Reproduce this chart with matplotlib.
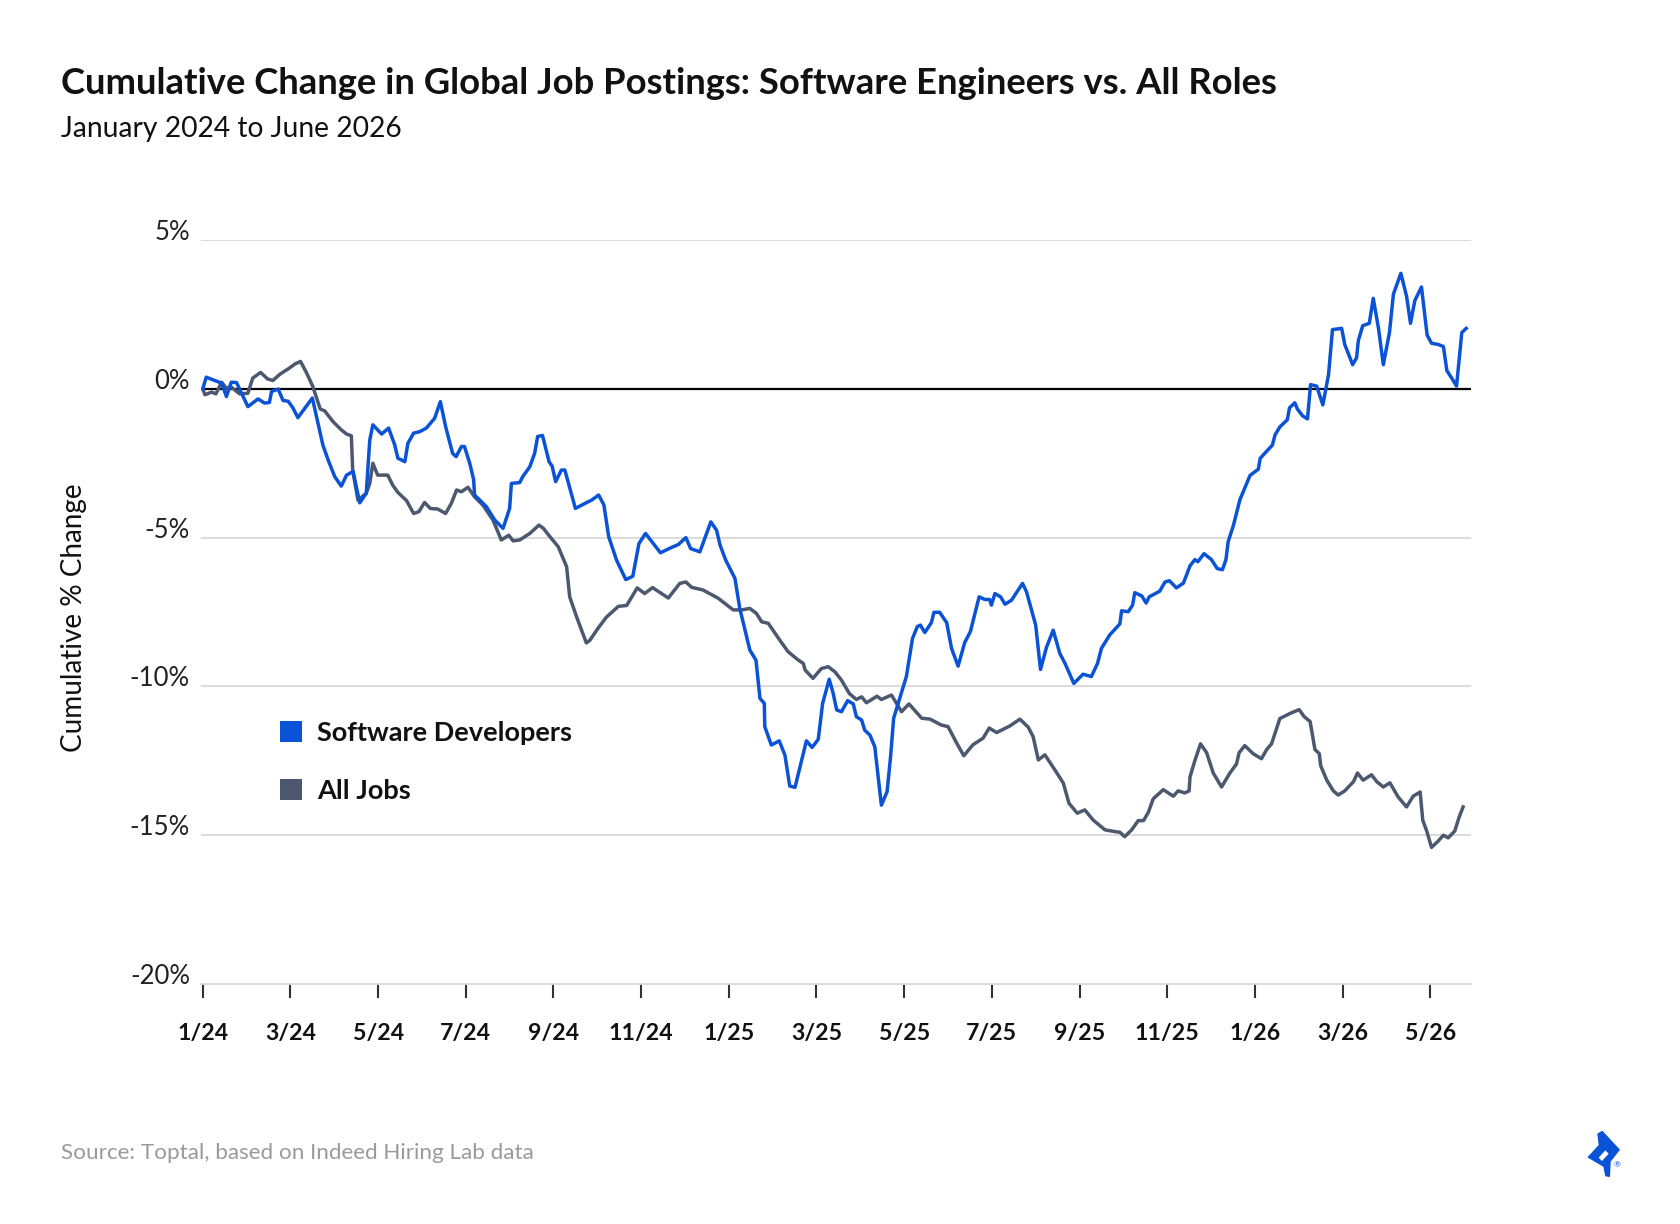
import matplotlib
matplotlib.use("Agg")
import matplotlib.pyplot as plt
from matplotlib.patches import Patch, Polygon

plt.rcParams['font.family'] = ['Lato', 'DejaVu Sans']

# ---------------- data (months since Jan 2024, cumulative % change) ----------------
sw_month = [0.0, 0.08, 0.43, 0.54, 0.65, 0.77, 1.03, 1.26, 1.41, 1.52, 1.57, 1.72, 1.83, 1.95,
            2.06, 2.17, 2.5, 2.63, 2.74, 2.86, 3.01, 3.16, 3.28, 3.43, 3.58, 3.73, 3.81, 3.88,
            4.08, 4.24, 4.38, 4.45, 4.61, 4.68, 4.81, 4.95, 5.1, 5.29, 5.42, 5.54, 5.7, 5.78,
            5.9, 5.97, 6.09, 6.18, 6.2, 6.32, 6.47, 6.66, 6.85, 7.0, 7.04, 7.23, 7.3, 7.46,
            7.57, 7.64, 7.75, 7.9, 7.97, 8.05, 8.18, 8.26, 8.5, 8.72, 8.87, 9.03, 9.15, 9.26,
            9.44, 9.65, 9.81, 9.95, 10.1, 10.44, 10.65, 10.85, 11.02, 11.13, 11.34, 11.59,
            11.72, 11.8, 11.93, 12.14, 12.25, 12.48, 12.62, 12.71, 12.81, 12.82, 12.97, 13.15,
            13.28, 13.39, 13.51, 13.77, 13.9, 14.04, 14.14, 14.29, 14.38, 14.46, 14.57, 14.71,
            14.84, 14.91, 15.03, 15.1, 15.22, 15.33, 15.48, 15.61, 15.69, 15.76, 15.9, 16.05,
            16.19, 16.3, 16.37, 16.47, 16.62, 16.68, 16.81, 16.97, 17.08, 17.23, 17.38, 17.51,
            17.71, 17.84, 17.95, 17.99, 18.07, 18.2, 18.3, 18.45, 18.7, 18.79, 19.0, 19.11,
            19.25, 19.4, 19.55, 19.67, 19.87, 20.08, 20.27, 20.41, 20.5, 20.69, 20.92, 20.96,
            21.11, 21.21, 21.26, 21.42, 21.52, 21.59, 21.83, 21.95, 22.05, 22.21, 22.37, 22.52,
            22.63, 22.7, 22.84, 23.01, 23.14, 23.26, 23.34, 23.39, 23.51, 23.66, 23.89, 24.08,
            24.12, 24.23, 24.4, 24.46, 24.57, 24.74, 24.79, 24.91, 24.97, 25.09, 25.2, 25.27,
            25.41, 25.55, 25.68, 25.77, 25.98, 26.05, 26.23, 26.32, 26.36, 26.46, 26.61, 26.7,
            26.82, 26.93, 27.07, 27.16, 27.33, 27.46, 27.55, 27.65, 27.8, 27.93, 28.03, 28.18,
            28.3, 28.38, 28.49, 28.6, 28.72, 28.82]
sw_value = [0.0, 0.39, 0.19, -0.26, 0.22, 0.21, -0.6, -0.34, -0.48, -0.46, -0.09, -0.01, -0.39,
            -0.42, -0.65, -0.97, -0.31, -1.16, -1.89, -2.39, -2.95, -3.27, -2.9, -2.78, -3.83,
            -3.51, -1.72, -1.21, -1.52, -1.32, -1.89, -2.33, -2.45, -1.83, -1.49, -1.44, -1.32,
            -0.99, -0.43, -1.27, -2.17, -2.28, -1.94, -1.94, -2.5, -3.06, -3.57, -3.74, -3.96,
            -4.41, -4.69, -4.02, -3.18, -3.15, -2.95, -2.62, -2.17, -1.6, -1.57, -2.45, -2.6,
            -3.12, -2.73, -2.73, -4.02, -3.85, -3.74, -3.57, -3.9, -4.97, -5.76, -6.41, -6.3,
            -5.2, -4.86, -5.51, -5.36, -5.23, -5.0, -5.37, -5.48, -4.47, -4.75, -5.25, -5.76,
            -6.37, -7.38, -8.78, -9.12, -10.4, -10.57, -11.35, -11.97, -11.83, -12.31, -13.35,
            -13.39, -11.83, -12.05, -11.78, -10.57, -9.76, -10.23, -10.79, -10.85, -10.48,
            -10.59, -11.02, -11.13, -11.47, -11.64, -12.03, -13.99, -13.54, -12.36, -11.07,
            -10.4, -9.67, -8.39, -7.99, -7.94, -8.19, -7.86, -7.51, -7.51, -7.86, -8.72, -9.32,
            -8.53, -8.16, -6.99, -7.08, -7.08, -7.27, -6.88, -6.99, -7.24, -7.1, -6.54, -6.82,
            -7.94, -9.43, -8.67, -8.11, -8.89, -9.23, -9.9, -9.59, -9.67, -9.23, -8.72, -8.27,
            -7.9, -7.46, -7.49, -7.27, -6.85, -6.96, -7.2, -6.99, -6.8, -6.49, -6.45, -6.69,
            -6.53, -5.95, -5.74, -5.81, -5.54, -5.74, -6.04, -6.08, -5.74, -5.14, -4.59, -3.72,
            -2.91, -2.7, -2.34, -2.16, -1.89, -1.55, -1.28, -1.04, -0.64, -0.47, -0.68, -0.91,
            -1.01, 0.14, 0.09, -0.54, 0.47, 1.99, 2.03, 1.49, 0.81, 1.04, 1.62, 2.12, 2.2, 3.04,
            2.03, 0.81, 1.89, 3.18, 3.88, 3.11, 2.2, 2.97, 3.42, 1.8, 1.53, 1.49, 1.42, 0.61,
            0.36, 0.09, 1.89, 2.03]

all_month = [0.0, 0.05, 0.2, 0.3, 0.43, 0.54, 0.65, 0.84, 1.03, 1.14, 1.32, 1.48, 1.6, 1.76,
             1.98, 2.1, 2.23, 2.37, 2.51, 2.68, 2.78, 2.97, 3.16, 3.28, 3.39, 3.42, 3.54, 3.73,
             3.81, 3.88, 3.99, 4.22, 4.33, 4.45, 4.65, 4.81, 4.93, 5.06, 5.19, 5.36, 5.54, 5.67,
             5.79, 5.9, 6.05, 6.2, 6.39, 6.62, 6.81, 6.98, 7.08, 7.23, 7.46, 7.67, 7.77, 7.92,
             8.11, 8.3, 8.37, 8.53, 8.64, 8.75, 8.83, 9.02, 9.21, 9.48, 9.67, 9.91, 10.08, 10.26,
             10.62, 10.88, 11.02, 11.15, 11.41, 11.76, 12.1, 12.29, 12.48, 12.63, 12.75, 12.9,
             13.16, 13.35, 13.58, 13.7, 13.74, 13.92, 14.11, 14.27, 14.42, 14.57, 14.75, 14.91,
             15.03, 15.14, 15.38, 15.48, 15.71, 15.94, 16.11, 16.4, 16.59, 16.85, 17.0, 17.2,
             17.36, 17.57, 17.8, 17.94, 18.11, 18.41, 18.64, 18.83, 18.94, 19.06, 19.21, 19.44,
             19.63, 19.76, 19.95, 20.12, 20.31, 20.58, 20.81, 20.92, 21.03, 21.19, 21.34, 21.46,
             21.57, 21.68, 21.91, 22.14, 22.25, 22.4, 22.5, 22.52, 22.63, 22.76, 22.9, 23.05,
             23.24, 23.43, 23.58, 23.64, 23.77, 23.96, 24.15, 24.27, 24.38, 24.57, 24.69, 24.8,
             25.01, 25.12, 25.26, 25.37, 25.47, 25.5, 25.64, 25.79, 25.9, 26.05, 26.25, 26.34,
             26.47, 26.66, 26.78, 26.93, 27.08, 27.27, 27.46, 27.61, 27.77, 27.83, 27.92, 28.03,
             28.18, 28.3, 28.41, 28.56, 28.66, 28.75]
all_value = [0.0, -0.2, -0.11, -0.17, 0.22, 0.02, 0.06, -0.17, -0.15, 0.36, 0.55, 0.33, 0.28,
             0.49, 0.7, 0.83, 0.92, 0.53, 0.08, -0.68, -0.74, -1.1, -1.38, -1.52, -1.58, -2.73,
             -3.74, -3.51, -3.18, -2.5, -2.9, -2.9, -3.23, -3.48, -3.76, -4.19, -4.13, -3.82,
             -4.02, -4.04, -4.19, -3.85, -3.4, -3.46, -3.31, -3.63, -3.91, -4.41, -5.08, -4.92,
             -5.11, -5.08, -4.86, -4.58, -4.69, -4.97, -5.31, -5.98, -6.99, -7.67, -8.11, -8.54,
             -8.45, -8.04, -7.67, -7.31, -7.28, -6.69, -6.88, -6.68, -7.03, -6.54, -6.49, -6.67,
             -6.76, -7.04, -7.43, -7.43, -7.38, -7.55, -7.83, -7.88, -8.44, -8.83, -9.11, -9.23,
             -9.45, -9.73, -9.4, -9.34, -9.51, -9.79, -10.24, -10.44, -10.35, -10.55, -10.33,
             -10.44, -10.29, -10.85, -10.59, -11.07, -11.1, -11.3, -11.35, -11.91, -12.33,
             -11.96, -11.74, -11.4, -11.55, -11.33, -11.1, -11.37, -11.68, -12.47, -12.3, -12.81,
             -13.25, -13.93, -14.26, -14.15, -14.49, -14.82, -14.88, -14.9, -15.05, -14.82,
             -14.51, -14.51, -14.23, -13.78, -13.47, -13.69, -13.51, -13.58, -13.51, -13.04,
             -12.5, -11.93, -12.23, -12.91, -13.38, -12.91, -12.61, -12.23, -11.99, -12.26,
             -12.43, -12.12, -11.93, -11.08, -10.99, -10.91, -10.78, -11.01, -11.18, -12.12,
             -12.26, -12.66, -13.15, -13.51, -13.65, -13.51, -13.2, -12.91, -13.15, -12.97,
             -13.2, -13.38, -13.24, -13.72, -14.05, -13.69, -13.55, -14.5, -14.86, -15.41, -15.2,
             -15.0, -15.09, -14.86, -14.39, -14.05]

x_tick_months = [0, 2, 4, 6, 8, 10, 12, 14, 16, 18, 20, 22, 24, 26, 28]
x_tick_labels = ['1/24', '3/24', '5/24', '7/24', '9/24', '11/24', '1/25', '3/25', '5/25',
                 '7/25', '9/25', '11/25', '1/26', '3/26', '5/26']
y_ticks = [-20, -15, -10, -5, 0, 5]
y_tick_labels = ['-20%', '-15%', '-10%', '-5%', '0%', '5%']

series_names = ['Software Developers', 'All Jobs']
BLUE = '#0A52D6'
GREY = '#4B5870'

W, H = 1680, 1224
fig = plt.figure(figsize=(W / 100, H / 100), dpi=100)
fig.patch.set_facecolor('white')

ax = fig.add_axes([201 / W, 1 - 984 / H, (1471 - 201) / W, (984 - 240) / H])
ax.set_xlim(-0.04, 28.93)
ax.set_ylim(-20, 5.0)

for yv in y_ticks:
    if yv not in (0, -20):
        ax.axhline(yv, color='#d9d9d9', lw=1.3, zorder=0)
ax.axhline(0, color='black', lw=1.6, zorder=1)

ax.plot(all_month, all_value, color=GREY, lw=2.5, solid_joinstyle='round', zorder=3)
ax.plot(sw_month, sw_value, color=BLUE, lw=2.5, solid_joinstyle='round', zorder=4)

for s in ['left', 'right', 'top']:
    ax.spines[s].set_visible(False)
ax.spines['bottom'].set_color('#d9d9d9')
ax.spines['bottom'].set_linewidth(1.3)

ax.set_xticks(x_tick_months)
ax.set_xticklabels(x_tick_labels, fontsize=16.7, fontweight='bold', color='#111111')
ax.tick_params(axis='x', direction='out', length=10, width=1.5, color='#333333', pad=18)

ax.set_yticks(y_ticks)
ax.set_yticklabels(y_tick_labels, fontsize=18.5, color='#222222', va='baseline')
ax.tick_params(axis='y', length=0, pad=8)

handles = [Patch(facecolor=BLUE, edgecolor='none'), Patch(facecolor=GREY, edgecolor='none')]
leg = fig.legend(handles, series_names, loc='upper left',
                 bbox_to_anchor=(280 / W, 1 - 721 / H), frameon=False,
                 prop={'size': 19.5, 'weight': 'bold'}, handlelength=0.82, handleheight=0.82,
                 handletextpad=0.55, labelspacing=1.25, borderpad=0, borderaxespad=0)
for t in leg.get_texts():
    t.set_color('#111111')

fig.text(61 / W, 1 - 83 / H,
         'Cumulative Change in Global Job Postings: Software Engineers vs. All Roles',
         fontsize=26.2, fontweight='bold', color='#111111', va='center', ha='left')
fig.text(61 / W, 1 - 129 / H, 'January 2024 to June 2026', fontsize=20.3,
         color='#111111', va='center', ha='left')
fig.text(74 / W, 1 - 618 / H, 'Cumulative % Change', fontsize=20.1, rotation=90,
         color='#111111', va='center', ha='center')
fig.text(61 / W, 1 - 1153 / H, 'Source: Toptal, based on Indeed Hiring Lab data',
         fontsize=16.2, color='#9a9a9a', va='center', ha='left')

# Toptal logo (approximate glyph)
def P(x, y):
    return (x / W, 1 - y / H)
outer = [P(1597.3, 1133.7), P(1602.3, 1130.7), P(1620, 1149.7), P(1610.7, 1161.7),
         P(1610, 1177), P(1605.3, 1176.3), P(1603.3, 1166.7), P(1587.3, 1157.3),
         P(1598.7, 1145)]
fig.patches.append(Polygon(outer, closed=True, transform=fig.transFigure,
                           facecolor=BLUE, edgecolor='none'))
hole = [P(1598.7, 1157.7), P(1605.3, 1150.3), P(1608.7, 1153.7), P(1602, 1161)]
fig.patches.append(Polygon(hole, closed=True, transform=fig.transFigure,
                           facecolor='white', edgecolor='none'))
fig.text(1617 / W, 1 - 1165 / H, '®', fontsize=6, color=BLUE, ha='center', va='center')

fig.savefig('out.png', dpi=100, facecolor='white')
